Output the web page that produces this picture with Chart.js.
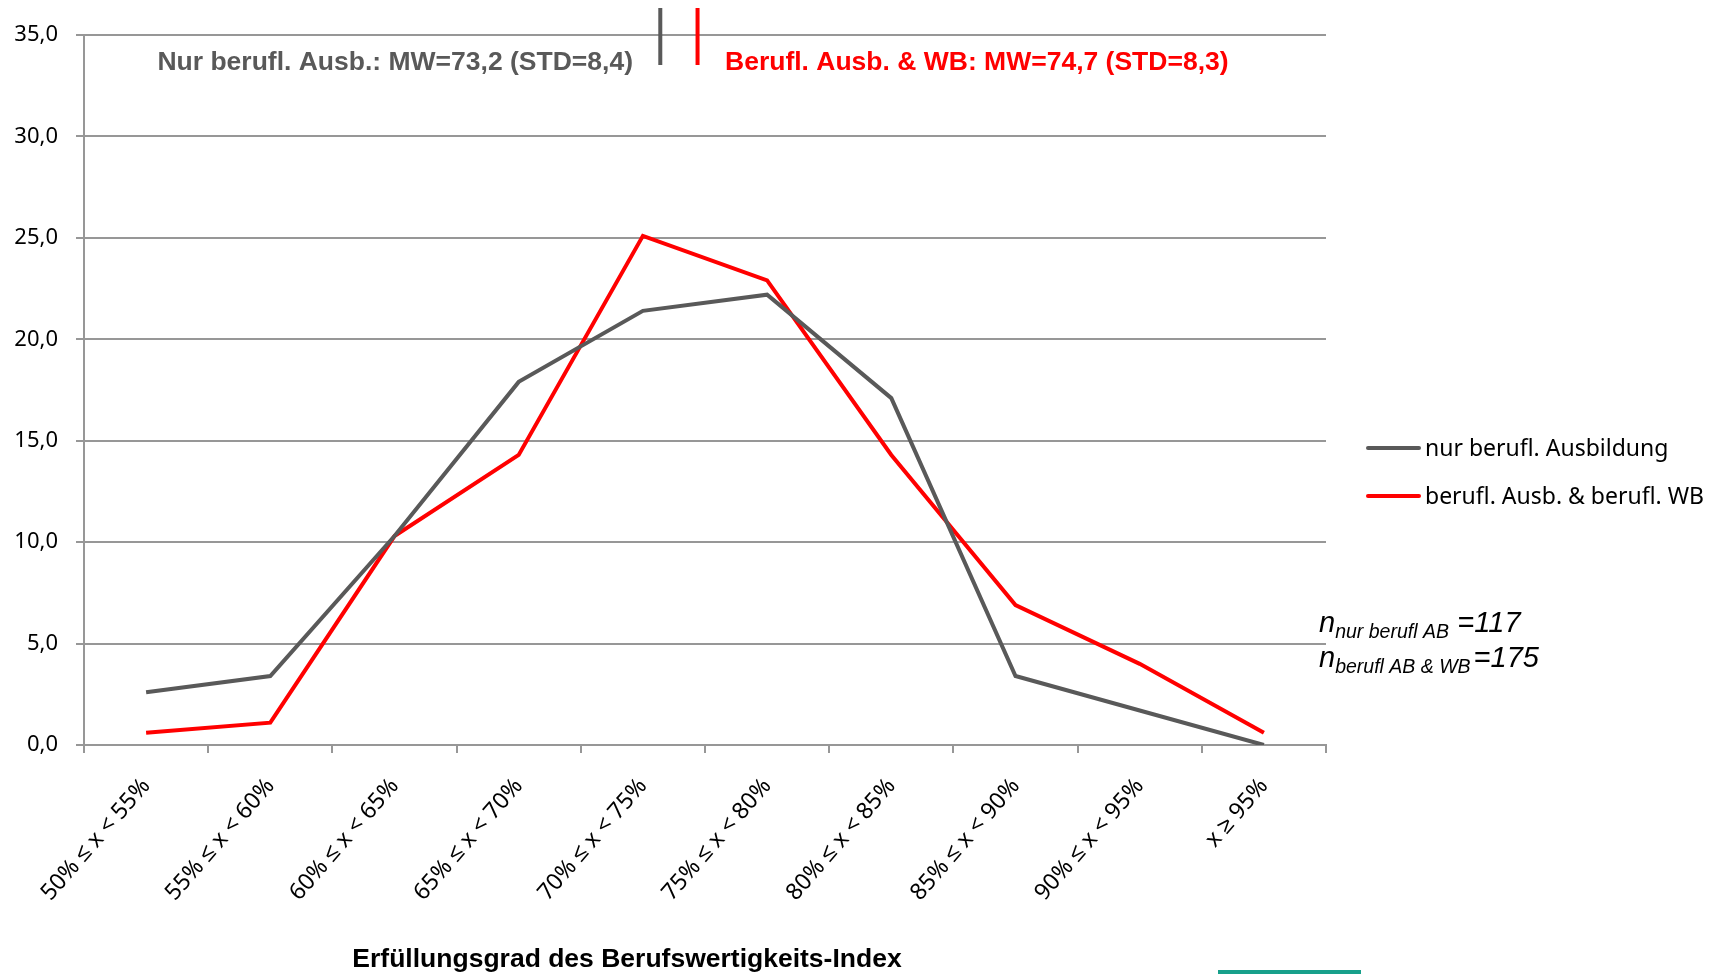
<!DOCTYPE html>
<html>
<head>
<meta charset="utf-8">
<script src="https://cdn.jsdelivr.net/npm/chart.js@4.4.1/dist/chart.umd.min.js"></script>
<style>
  html, body { margin: 0; padding: 0; background: #fff; }
  #wrap { width: 1721px; height: 974px; position: relative; }
</style>
</head>
<body>
<div id="wrap"><canvas id="chart"></canvas></div>
<script>
// Kategorien (Erfüllungsgrad)
var kategorien = ['50% ≤ x < 55%', '55% ≤ x < 60%', '60% ≤ x < 65%', '65% ≤ x < 70%', '70% ≤ x < 75%',
                  '75% ≤ x < 80%', '80% ≤ x < 85%', '85% ≤ x < 90%', '90% ≤ x < 95%', 'x ≥ 95%'];

// Anteile in %
var nurBeruflAusb = [2.6, 3.4, 10.3, 17.9, 21.4, 22.2, 17.1, 3.4, 1.7, 0.0];
var beruflAusbWB  = [0.6, 1.1, 10.3, 14.3, 25.1, 22.9, 14.3, 6.9, 4.0, 0.6];

// Mittelwerte / Standardabweichungen / Fallzahlen
var mwNur = 73.2, stdNur = 8.4, nNur = 117;
var mwWB = 74.7, stdWB = 8.3, nWB = 175;

var yMin = 0, yMax = 35, yStep = 5;

var grau = '#595959';
var rot = '#ff0000';
var gitter = '#979797';
var calibri = "'Noto Sans', sans-serif";
var arial = "'Liberation Sans', Arial, sans-serif";

function komma(v, d) { return v.toFixed(d).replace('.', ','); }

// Zusatzbeschriftungen: MW-Marker, Legende, Fallzahlen, Achsentitel
var extras = {
  id: 'extras',
  afterDraw: function (chart) {
    var ctx = chart.ctx;
    var x = chart.scales.x;
    ctx.save();

    // Mittelwert-Marker (auf der Kategorienachse: 5%-Klassen ab 50%)
    function marker(mw, farbe) {
      var px = x.getPixelForValue((mw - 50) / 5 - 0.5);
      ctx.strokeStyle = farbe;
      ctx.lineWidth = 4;
      ctx.beginPath();
      ctx.moveTo(px, 8);
      ctx.lineTo(px, 65);
      ctx.stroke();
    }
    marker(mwNur, grau);
    marker(mwWB, rot);

    ctx.font = 'bold 26.5px ' + arial;
    ctx.textBaseline = 'alphabetic';
    ctx.fillStyle = grau;
    ctx.textAlign = 'right';
    ctx.fillText('Nur berufl. Ausb.: MW=' + komma(mwNur, 1) + ' (STD=' + komma(stdNur, 1) + ')', 633, 70);
    ctx.fillStyle = rot;
    ctx.textAlign = 'left';
    ctx.fillText('Berufl. Ausb. & WB: MW=' + komma(mwWB, 1) + ' (STD=' + komma(stdWB, 1) + ')', 725, 70);

    // Legende
    var lx = 1368, ly = [448, 496];
    chart.data.datasets.forEach(function (ds, i) {
      ctx.strokeStyle = ds.borderColor;
      ctx.lineWidth = 4;
      ctx.lineCap = 'round';
      ctx.beginPath();
      ctx.moveTo(lx, ly[i]);
      ctx.lineTo(lx + 51, ly[i]);
      ctx.stroke();
      ctx.fillStyle = '#000';
      ctx.font = '23px ' + calibri;
      ctx.textAlign = 'left';
      ctx.textBaseline = 'middle';
      ctx.fillText(ds.label, lx + 57, ly[i] + 1);
    });

    // Fallzahlen
    function nZeile(sub, wert, y) {
      ctx.fillStyle = '#000';
      ctx.textAlign = 'left';
      ctx.textBaseline = 'alphabetic';
      var px = 1319;
      ctx.font = 'italic 29px ' + arial;
      ctx.fillText('n', px, y);
      px += ctx.measureText('n').width;
      ctx.font = 'italic 19.5px ' + arial;
      ctx.fillText(sub, px, y + 6);
      px += ctx.measureText(sub).width + 3;
      ctx.font = 'italic 29px ' + arial;
      ctx.fillText('=' + wert, px, y);
    }
    nZeile('nur berufl AB ', nNur, 632);
    nZeile('berufl AB & WB', nWB, 667);

    // Achsentitel
    ctx.fillStyle = '#000';
    ctx.font = 'bold 26.5px ' + arial;
    ctx.textAlign = 'center';
    ctx.textBaseline = 'alphabetic';
    ctx.fillText('Erfüllungsgrad des Berufswertigkeits-Index', 627, 967);

    // angeschnittener Rahmen unten rechts
    ctx.fillStyle = '#17a08b';
    ctx.fillRect(1218, 970, 143, 4);

    ctx.restore();
  }
};

var ctx = document.getElementById('chart').getContext('2d');
var chart = new Chart(ctx, {
  type: 'line',
  data: {
    labels: kategorien,
    datasets: [
      {
        label: 'nur berufl. Ausbildung',
        data: nurBeruflAusb,
        borderColor: grau,
        backgroundColor: grau,
        borderWidth: 4,
        pointRadius: 0,
        tension: 0
      },
      {
        label: 'berufl. Ausb. & berufl. WB',
        data: beruflAusbWB,
        borderColor: rot,
        backgroundColor: rot,
        borderWidth: 4,
        pointRadius: 0,
        tension: 0
      }
    ]
  },
  options: {
    responsive: true,
    maintainAspectRatio: false,
    animation: false,
    layout: { padding: { left: 0, right: 395, top: 35, bottom: 0 } },
    plugins: {
      legend: { display: false },
      tooltip: { enabled: false }
    },
    scales: {
      x: {
        offset: true,
        afterFit: function (s) { s.height = 229; },
        grid: {
          offset: true,
          drawOnChartArea: false,
          drawTicks: true,
          tickLength: 8,
          color: gitter,
          lineWidth: 2
        },
        border: { display: true, color: gitter, width: 2 },
        ticks: {
          minRotation: 49,
          maxRotation: 49,
          padding: 20,
          color: '#000',
          font: { family: calibri, size: 23 }
        }
      },
      y: {
        min: yMin,
        max: yMax,
        afterFit: function (s) { s.width = 84; },
        grid: { color: gitter, lineWidth: 2, tickLength: 8 },
        border: { display: true, color: gitter, width: 2 },
        ticks: {
          stepSize: yStep,
          padding: 18,
          color: '#000',
          font: { family: calibri, size: 22 },
          callback: function (v) { return komma(v, 1); }
        }
      }
    }
  },
  plugins: [extras]
});
</script>
</body>
</html>
